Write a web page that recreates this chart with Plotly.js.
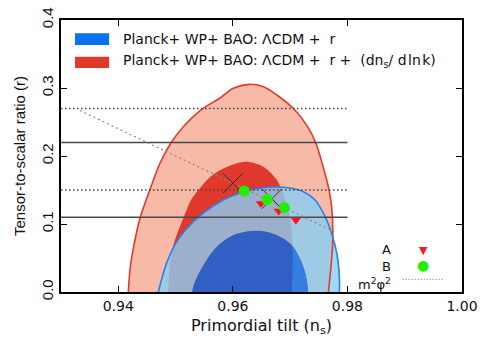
<!DOCTYPE html>
<html>
<head>
<meta charset="utf-8">
<script src="https://cdn.plot.ly/plotly-3.0.1.min.js"></script>
<style>html,body{margin:0;padding:0;background:#fff;}#chart{width:491px;height:348px;}</style>
</head>
<body>
<div id="chart"></div>
<script>
// ---- contour outlines (n_s, r) ----
const redOuterNs = [0.94175,0.94204,0.94252,0.94379,0.94554,0.94728,0.94915,0.95135,0.95457,0.95776,0.96009,0.96271,0.96533,0.96767,0.97070,0.97305,0.97450,0.97575,0.97660,0.97725,0.97745,0.97715,0.97668];
const redOuterR  = [0.0,0.0324,0.0593,0.1084,0.151,0.1893,0.2187,0.2431,0.2687,0.2853,0.2996,0.3054,0.3019,0.2897,0.2687,0.2431,0.2187,0.1843,0.1574,0.1254,0.0765,0.0397,0.0];

const redInnerNs = [0.94873,0.94891,0.94938,0.95025,0.95135,0.95270,0.95427,0.95602,0.95834,0.96213,0.96533,0.96767,0.96895,0.97000,0.97043,0.97029];
const redInnerR  = [0.0,0.0353,0.0618,0.0853,0.1084,0.1353,0.1529,0.1691,0.1816,0.1916,0.1843,0.1647,0.1412,0.1088,0.0618,0.0];

const blueOuterNs = [0.94699,0.94763,0.94851,0.95020,0.95310,0.95776,0.96126,0.96388,0.96702,0.96999,0.97231,0.97436,0.97611,0.97733,0.97820,0.97860,0.97860];
const blueOuterR  = [0.0,0.0206,0.0441,0.0740,0.1034,0.1328,0.1456,0.1515,0.1544,0.1529,0.1475,0.1353,0.1107,0.0838,0.0544,0.0206,0.0];

const blueInnerNs = [0.95287,0.95322,0.95485,0.95719,0.96009,0.96300,0.96510,0.96767,0.97029,0.97203,0.97291,0.97319];
const blueInnerR  = [0.0,0.0118,0.0397,0.0666,0.0838,0.0897,0.0897,0.0838,0.0691,0.0446,0.0201,0.0];

// ---- reference lines ----
const lineNsSpan = [0.93, 0.98];
const solidLevels = [0.22, 0.11];
const dottedLevels = [0.27, 0.15];
const m2phi2Ns = [0.9333, 0.9777];
const m2phi2R  = [0.267, 0.089];

// ---- model points ----
const crossNs = [0.9600, 0.9668];
const crossR  = [0.160, 0.137];
const modelANs = [0.9649, 0.9680, 0.9710];
const modelAR  = [0.130, 0.119, 0.106];
const modelBNs = [0.9620, 0.9660, 0.9690];
const modelBR  = [0.1485, 0.136, 0.124];

// ---- axis ticks / labels ----
const xTickVals = [0.94, 0.96, 0.98, 1.00];
const yTickVals = [0.0, 0.1, 0.2, 0.3, 0.4];
const legendLabels = ['Planck+ WP+ BAO: \u039BCDM +\u00A0 r', 'Planck+ WP+ BAO: \u039BCDM +\u00A0 r +\u00A0 (dn<sub>s</sub>/ d\u200Aln\u200Ak)'];
const cornerLabels = ['A', 'B', 'm<sup>2</sup>\u03C6<sup>2</sup>'];

function levelLines(levels){
  const x=[], y=[];
  levels.forEach((v,i)=>{ if(i){x.push(null);y.push(null);} x.push(lineNsSpan[0], lineNsSpan[1]); y.push(v, v); });
  return {x, y};
}
// ring = outer outline followed by reversed inner outline (hole)
const ringNs = blueOuterNs.concat([null], blueInnerNs.slice().reverse());
const ringR  = blueOuterR.concat([null], blueInnerR.slice().reverse());

const sp = {shape:'spline', smoothing:0.9};
const solid = levelLines(solidLevels), dotted = levelLines(dottedLevels);

const traces = [
  {x:redOuterNs, y:redOuterR, mode:'lines', fill:'toself', fillcolor:'#f6baa6', line:Object.assign({width:0, color:'#f6baa6'}, sp), hoverinfo:'skip'},
  {x:redInnerNs, y:redInnerR, mode:'lines', fill:'toself', fillcolor:'#e0392b', line:Object.assign({width:0, color:'#e0392b'}, sp), hoverinfo:'skip'},
  {x:blueInnerNs, y:blueInnerR, mode:'lines', fill:'toself', fillcolor:'rgba(0,107,241,0.78)', line:Object.assign({width:0, color:'rgba(0,0,0,0)'}, sp), hoverinfo:'skip'},
  {x:ringNs, y:ringR, mode:'lines', fill:'toself', fillcolor:'rgba(136,206,246,0.8)', line:Object.assign({width:0, color:'rgba(0,0,0,0)'}, sp), connectgaps:false, hoverinfo:'skip'},
  {x:redOuterNs, y:redOuterR, mode:'lines', line:Object.assign({width:1.6, color:'#e23a2c'}, sp), hoverinfo:'skip'},
  {x:blueOuterNs, y:blueOuterR, mode:'lines', line:Object.assign({width:1.6, color:'#2a80ea'}, sp), hoverinfo:'skip'},
  {x:solid.x, y:solid.y, mode:'lines', line:{width:1.5, color:'#4a4a4a'}, hoverinfo:'skip'},
  {x:dotted.x, y:dotted.y, mode:'lines', line:{width:1.5, color:'#444', dash:'1.5px,2.5px'}, hoverinfo:'skip'},
  {x:m2phi2Ns, y:m2phi2R, mode:'lines', line:{width:1.2, color:'#888', dash:'2px,3px'}, hoverinfo:'skip'},
  {x:crossNs, y:crossR, mode:'markers', marker:{symbol:'x-thin', size:20, color:'#333', line:{width:1, color:'#333'}}, hoverinfo:'skip'},
  {x:modelANs, y:modelAR, mode:'markers', marker:{symbol:'triangle-down', size:9, color:'#ff1414'}, hoverinfo:'skip'},
  {x:modelBNs, y:modelBR, mode:'markers', marker:{symbol:'circle', size:11, color:'#22ee00'}, hoverinfo:'skip'}
];

const hFont = {family:'DejaVu Sans, Liberation Sans, sans-serif', size:14, color:'#111'};
const cFont = {family:'DejaVu Sans, Liberation Sans, sans-serif', size:13, color:'#111'};
const layout = {
  width:491, height:348,
  margin:{l:61, r:29, t:20, b:56},
  paper_bgcolor:'#fff', plot_bgcolor:'#fff',
  showlegend:false,
  font:hFont,
  xaxis:{range:[0.93,1.0], tickvals:xTickVals, tickformat:'.2f', ticks:'inside', ticklen:6, tickwidth:1, tickcolor:'#000',
         showline:true, linewidth:2, linecolor:'#000', mirror:'ticks', showgrid:false, zeroline:false,
         tickfont:{family:'DejaVu Sans, sans-serif', size:14, color:'#111'},
         title:{text:'Primordial tilt (n<sub>s</sub>)', font:{family:'DejaVu Sans, sans-serif', size:16, color:'#111'}, standoff:7}},
  yaxis:{range:[0,0.4], tickvals:yTickVals, tickformat:'.1f', ticks:'inside', ticklen:6, tickwidth:1, tickcolor:'#000', tickangle:-90,
         showline:true, linewidth:2, linecolor:'#000', mirror:'ticks', showgrid:false, zeroline:false,
         tickfont:{family:'Liberation Sans, Arial, sans-serif', size:15, color:'#111'},
         title:{text:'Tensor-to-scalar ratio (r)', font:{family:'Liberation Sans, Arial, sans-serif', size:15, color:'#111'}, standoff:10}},
  shapes:[
    {type:'rect', xref:'paper', yref:'paper', x0:0.035, x1:0.12, y0:0.908, y1:0.951, fillcolor:'#0a72ee', line:{width:0}},
    {type:'rect', xref:'paper', yref:'paper', x0:0.035, x1:0.12, y0:0.8235, y1:0.865, fillcolor:'#e0382a', line:{width:0}},
    {type:'line', xref:'paper', yref:'paper', x0:0.852, x1:0.9526, y0:0.0467, y1:0.0467, line:{width:1, color:'#666', dash:'1px,2px'}}
  ],
  annotations:[
    {xref:'paper', yref:'paper', x:0.1496, y:0.930, xanchor:'left', yanchor:'middle', text:legendLabels[0], showarrow:false, font:hFont},
    {xref:'paper', yref:'paper', x:0.1496, y:0.848, xanchor:'left', yanchor:'middle', text:legendLabels[1], showarrow:false, font:hFont},
    {xref:'paper', yref:'paper', x:0.829, y:0.155, xanchor:'right', yanchor:'middle', text:cornerLabels[0], showarrow:false, font:cFont},
    {xref:'paper', yref:'paper', x:0.829, y:0.095, xanchor:'right', yanchor:'middle', text:cornerLabels[1], showarrow:false, font:cFont},
    {xref:'paper', yref:'paper', x:0.829, y:0.030, xanchor:'right', yanchor:'middle', text:cornerLabels[2], showarrow:false, font:cFont},
    {xref:'paper', yref:'paper', x:0.9034, y:0.151, xanchor:'center', yanchor:'middle', text:'\u25BC', showarrow:false, font:{family:'DejaVu Sans', size:11, color:'#ff1414'}},
    {xref:'paper', yref:'paper', x:0.9034, y:0.0993, xanchor:'center', yanchor:'middle', text:'\u25CF', showarrow:false, font:{family:'DejaVu Sans', size:14, color:'#22ee00'}}
  ]
};
Plotly.newPlot('chart', traces, layout, {staticPlot:true, displayModeBar:false});
</script>
</body>
</html>
